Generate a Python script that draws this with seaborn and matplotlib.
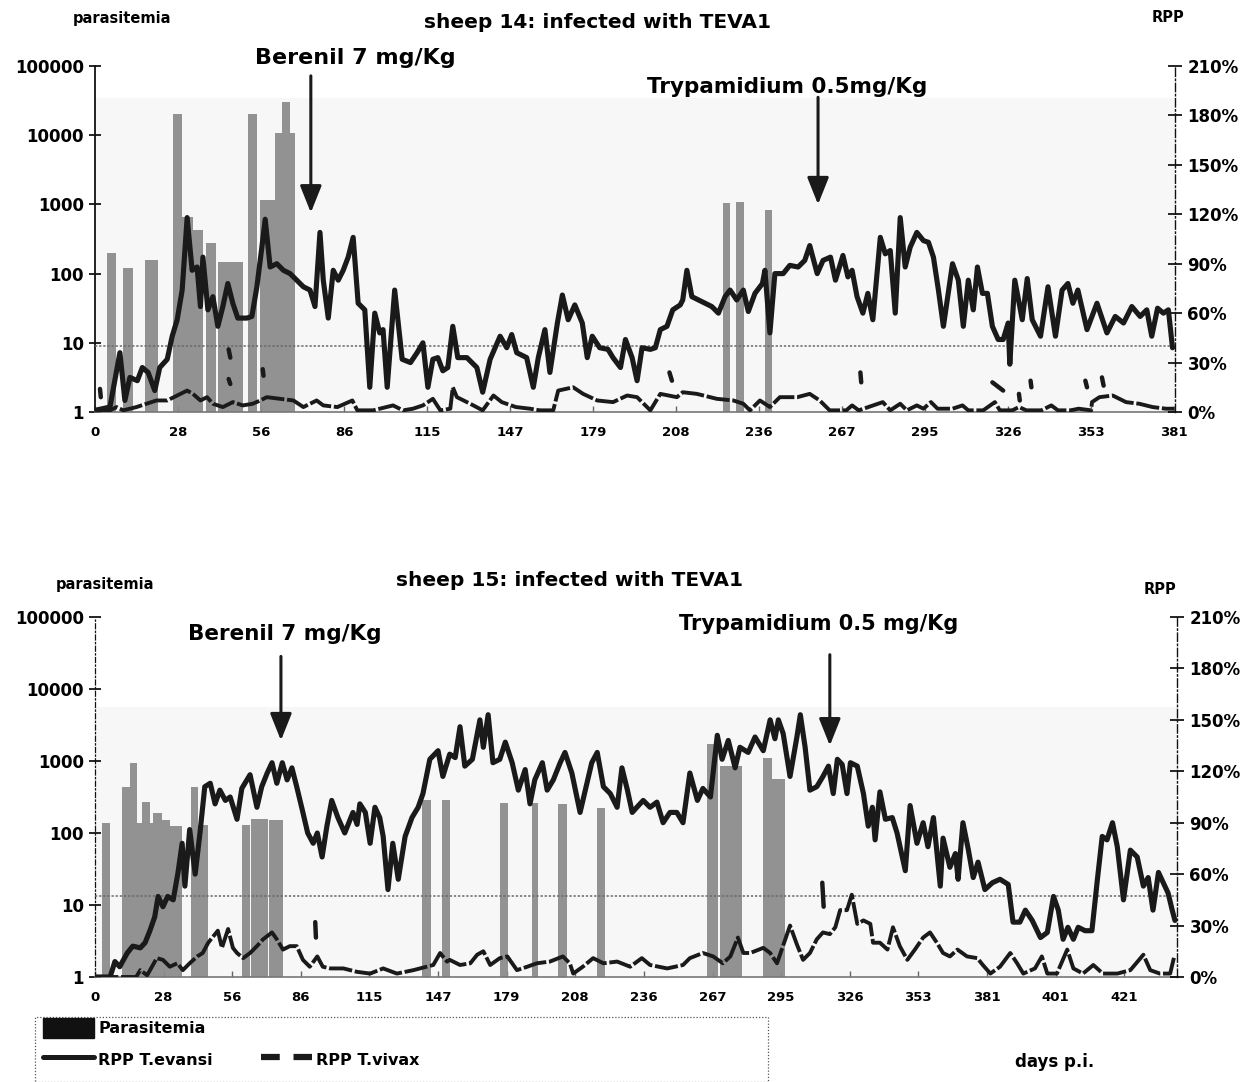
import numpy as np
import pandas as pd
import matplotlib
matplotlib.use("Agg")
import matplotlib.pyplot as plt
import seaborn as sns
from matplotlib.lines import Line2D
from matplotlib.patches import Patch, Rectangle

sns.set_theme(style="white")
plt.rcParams['font.family'] = ['DejaVu Sans']
plt.rcParams['font.weight'] = 'bold'
plt.rcParams['axes.labelweight'] = 'bold'
plt.rcParams['text.color'] = '#000000'
plt.rcParams['xtick.color'] = '#000000'
plt.rcParams['ytick.color'] = '#000000'

# ---------------- data : sheep 14 ----------------
ticks14 = ['0', '28', '56', '86', '115', '147', '179', '208', '236', '267', '295', '326', '353', '381']

evansi14_x = [0.00,0.18,0.30,0.36,0.42,0.51,0.57,0.64,0.72,0.78,
              0.87,0.93,0.99,1.05,1.11,1.17,1.23,1.27,1.30,1.36,
              1.42,1.48,1.54,1.60,1.66,1.72,1.83,1.89,1.95,2.01,
              2.05,2.11,2.19,2.27,2.35,2.43,2.51,2.59,2.65,2.71,
              2.75,2.81,2.87,2.93,2.99,3.05,3.11,3.17,3.25,3.31,
              3.37,3.43,3.47,3.52,3.61,3.70,3.80,3.88,3.95,4.01,
              4.07,4.13,4.19,4.25,4.31,4.37,4.48,4.60,4.67,4.76,
              4.88,4.96,5.02,5.08,5.20,5.28,5.34,5.42,5.48,5.57,
              5.63,5.70,5.78,5.87,5.93,5.99,6.08,6.18,6.24,6.33,
              6.39,6.47,6.53,6.59,6.69,6.75,6.81,6.89,6.96,7.05,
              7.08,7.13,7.19,7.27,7.35,7.43,7.51,7.59,7.65,7.73,
              7.81,7.87,7.95,8.04,8.07,8.13,8.19,8.29,8.37,8.47,
              8.55,8.61,8.70,8.77,8.86,8.92,9.01,9.07,9.12,9.18,
              9.25,9.31,9.37,9.46,9.52,9.58,9.64,9.70,9.76,9.82,
              9.90,9.98,10.04,10.10,10.16,10.22,10.33,10.40,10.46,10.52,
              10.58,10.63,10.69,10.75,10.81,10.88,10.94,11.00,11.02,11.08,
              11.17,11.23,11.29,11.39,11.48,11.57,11.65,11.72,11.78,11.84,
              11.95,12.07,12.19,12.29,12.39,12.49,12.59,12.67,12.73,12.80,
              12.87,12.93,12.98]
evansi14_y = [1,3,36,7,21,19,27,24,13,27,
              32,46,56,74,118,86,88,64,94,62,
              70,52,64,78,66,57,57,58,76,100,
              117,88,90,86,84,80,76,74,64,109,
              80,57,86,80,86,94,106,66,62,15,
              60,48,50,15,74,32,30,36,42,15,
              32,33,25,27,52,33,33,27,12,32,
              46,39,47,36,33,15,33,50,24,54,
              71,56,65,54,33,46,39,38,33,27,
              44,33,19,39,38,39,50,52,62,65,
              68,86,70,68,66,64,60,70,74,68,
              74,61,72,78,86,48,84,84,89,88,
              92,101,84,92,94,80,95,82,86,70,
              60,72,56,106,96,98,60,118,88,100,
              109,104,103,94,74,52,90,80,52,80,
              62,88,72,72,52,44,44,54,29,80,
              56,81,56,46,76,46,74,78,66,74,
              50,66,48,58,54,64,58,62,46,63,
              60,62,39]

vivax14_x = [0.00,0.18,0.26,0.34,0.50,0.62,0.74,0.87,0.99,1.11,
             1.18,1.27,1.35,1.42,1.54,1.66,1.78,1.90,1.99,2.07,
             2.23,2.39,2.51,2.67,2.75,2.92,3.10,3.16,3.35,3.59,
             3.71,3.83,3.95,4.07,4.16,4.28,4.31,4.36,4.52,4.67,
             4.80,4.90,5.07,5.24,5.36,5.52,5.58,5.76,5.88,6.05,
             6.24,6.41,6.53,6.69,6.81,7.01,7.08,7.25,7.49,7.69,
             7.81,7.89,8.01,8.13,8.25,8.46,8.61,8.73,8.85,9.05,
             9.12,9.20,9.49,9.58,9.70,9.78,9.90,9.98,10.07,10.15,
             10.33,10.45,10.52,10.70,10.84,10.90,11.05,11.13,11.22,11.40,
             11.52,11.60,11.75,11.85,12.00,12.01,12.10,12.26,12.42,12.58,
             12.74,12.90,13.00]
vivax14_y = [1,1,3,1,3,5,7,7,10,13,
             11,7,9,5,3,6,4,5,7,9,
             8,7,3,7,4,3,7,1,1,4,
             1,2,4,8,1,2,15,9,5,1,
             10,6,3,2,1,1,13,15,11,7,
             6,10,9,1,11,9,12,11,8,7,
             5,1,7,3,9,9,11,7,1,1,
             4,1,6,1,5,1,4,2,6,2,
             2,4,1,1,6,1,1,3,1,1,
             4,1,1,2,1,6,9,10,6,5,
             3,2,2]

# isolated dash fragments of the T. vivax curve (x, y, fragment id)
vivax14_frag_x = [0.06,0.07, 1.61,1.63, 1.61,1.63, 2.02,2.03, 6.92,6.95, 9.22,9.23,
                  10.81,10.94, 11.13,11.14, 11.27,11.28, 11.93,11.95, 12.13,12.15]
vivax14_frag_y = [14,9, 38,33, 20,17, 26,22, 24,19, 24,18,
                  18,13, 11,7, 19,15, 19,15, 21,16]
vivax14_frag_id = [0,0, 1,1, 2,2, 3,3, 4,4, 5,5, 6,6, 7,7, 8,8, 9,9, 10,10]

para14_x = [0.20,0.40,0.68,0.99,1.11,1.24,1.40,1.63,1.90,2.08,2.21,2.30,2.38,7.61,7.77,8.11]
para14_w = [0.11,0.12,0.16,0.11,0.13,0.12,0.12,0.30,0.11,0.18,0.08,0.10,0.06,0.085,0.085,0.085]
para14_v = [200,120,158,20000,660,425,277,147,20000,1150,10700,30000,10700,1050,1100,830]

# ---------------- data : sheep 15 ----------------
ticks15 = ['0', '28', '56', '86', '115', '147', '179', '208', '236', '267', '295', '326',
           '353', '381', '401', '421']

evansi15_x = [0,0.22,0.29,0.36,0.47,0.55,0.66,0.73,0.80,0.87,
              0.92,0.99,1.06,1.14,1.21,1.27,1.31,1.38,1.46,1.53,
              1.60,1.68,1.75,1.82,1.90,1.97,2.07,2.14,2.26,2.36,
              2.43,2.51,2.58,2.65,2.73,2.80,2.87,2.94,3.03,3.10,
              3.18,3.24,3.31,3.38,3.45,3.54,3.64,3.72,3.76,3.82,
              3.86,3.94,4.01,4.08,4.15,4.20,4.27,4.34,4.42,4.52,
              4.62,4.71,4.78,4.88,5.00,5.07,5.17,5.25,5.32,5.39,
              5.50,5.61,5.66,5.73,5.80,5.90,5.98,6.08,6.17,6.27,
              6.34,6.41,6.52,6.59,6.68,6.78,6.85,6.95,7.07,7.17,
              7.24,7.32,7.41,7.51,7.61,7.68,7.76,7.83,7.92,7.99,
              8.09,8.19,8.28,8.38,8.48,8.57,8.67,8.78,8.86,8.97,
              9.07,9.14,9.23,9.33,9.40,9.52,9.62,9.74,9.84,9.91,
              9.96,10.03,10.13,10.23,10.28,10.35,10.42,10.52,10.61,10.69,
              10.76,10.82,10.89,10.96,11.01,11.11,11.20,11.27,11.33,11.37,
              11.44,11.52,11.62,11.69,11.81,11.88,11.98,12.07,12.14,12.22,
              12.32,12.36,12.46,12.54,12.58,12.65,12.73,12.80,12.87,12.97,
              13.08,13.19,13.31,13.38,13.48,13.56,13.66,13.78,13.88,13.97,
              14.04,14.11,14.18,14.26,14.33,14.43,14.53,14.61,14.68,14.75,
              14.83,14.90,14.99,15.09,15.19,15.28,15.35,15.42,15.50,15.57,
              15.64,15.70,15.74]
evansi15_y = [0,0,9,6,14,18,17,20,27,35,
              47,41,47,45,61,78,53,86,60,84,
              111,113,101,109,103,105,92,110,118,99,
              111,119,125,113,125,115,122,111,96,84,
              78,84,70,88,103,93,84,92,96,89,
              101,96,78,99,93,82,51,78,57,82,
              93,99,107,127,132,117,130,128,146,123,
              127,150,134,153,125,127,137,125,109,121,
              101,115,125,109,115,125,131,119,96,113,
              125,131,111,107,99,122,109,96,100,103,
              99,102,90,96,96,90,119,103,110,105,
              141,127,138,122,134,131,140,132,150,139,
              150,142,117,140,153,134,109,111,117,123,
              107,127,124,107,125,123,107,88,99,80,
              108,92,93,84,62,100,78,90,76,93,
              53,81,64,72,57,90,74,58,67,51,
              55,57,54,32,32,39,33,23,26,47,
              39,22,29,22,29,27,27,57,82,80,
              90,76,45,74,70,53,58,39,61,55,
              49,39,33]

vivax15_x = [0,0.60,0.66,0.76,0.90,0.99,1.09,1.20,1.28,1.38,
             1.49,1.57,1.65,1.79,1.85,1.94,2.01,2.07,2.16,2.26,
             2.36,2.45,2.58,2.65,2.74,2.84,2.94,3.03,3.13,3.24,
             3.32,3.43,3.62,3.82,4.01,4.20,4.40,4.64,4.93,5.03,
             5.13,5.17,5.32,5.47,5.57,5.66,5.76,5.90,6.01,6.15,
             6.30,6.44,6.63,6.82,6.92,6.97,7.11,7.26,7.41,7.61,
             7.80,7.97,8.09,8.34,8.57,8.67,8.86,9.01,9.15,9.26,
             9.37,9.45,9.55,9.74,9.84,9.94,10.06,10.13,10.23,10.32,
             10.42,10.52,10.61,10.71,10.79,10.86,10.96,11.03,11.11,11.20,
             11.30,11.34,11.44,11.55,11.63,11.73,11.84,11.95,12.07,12.17,
             12.27,12.36,12.46,12.57,12.71,12.86,12.94,13.05,13.19,13.34,
             13.44,13.53,13.70,13.80,13.88,14.02,14.17,14.26,14.40,14.55,
             14.69,14.90,15.09,15.28,15.38,15.52,15.67,15.73]
vivax15_y = [0,0,4,1,11,10,6,8,4,8,
             12,14,20,27,17,28,17,14,11,14,
             18,22,26,22,16,18,18,10,6,12,
             6,5,5,3,2,5,2,4,7,14,
             9,10,7,8,13,15,7,11,12,4,
             6,8,9,12,8,2,6,11,8,9,
             6,11,7,5,7,11,14,12,8,12,
             23,14,14,17,14,8,22,30,19,10,
             14,22,26,25,29,39,39,48,31,33,
             31,20,20,16,29,18,10,16,23,26,
             20,14,12,16,12,11,7,2,6,14,
             8,2,5,12,2,2,16,5,2,7,
             2,2,4,13,4,2,2,12]

vivax15_frag_x = [3.21,3.22, 10.60,10.62]
vivax15_frag_y = [32,23, 55,41]
vivax15_frag_id = [0,0, 1,1]

para15_x = [0.16,0.45,0.56,0.65,0.74,0.82,0.91,1.03,1.18,1.45,1.57,2.20,2.40,2.64,
            4.83,5.12,5.96,6.41,6.81,7.38,9.00,9.27,9.80,9.96]
para15_w = [0.12,0.12,0.10,0.07,0.12,0.05,0.13,0.12,0.17,0.10,0.15,0.12,0.24,0.20,
            0.12,0.12,0.12,0.09,0.13,0.12,0.16,0.32,0.13,0.19]
para15_v = [138,440,935,138,270,138,190,150,127,437,130,130,155,150,
            287,287,260,260,250,220,1700,850,1100,560]

# ---------------- figure ----------------
W, H = 1259, 1082
fig = plt.figure(figsize=(W / 100, H / 100), dpi=100)
fig.patch.set_facecolor('white')

LINE_C = '#1a1a1a'
BAR_C = '#8a8a8a'


def panel(rect, ticks, xmax, shade_top, ev_x, ev_y, vx_x, vx_y, fx, fy, fid,
          bx, bw, bv, thresh, left_dashed):
    ax = fig.add_axes(rect)
    ax.set_facecolor('white')
    ax.set_yscale('log')
    ax.set_ylim(1, 1e5)
    ax.set_xlim(0, xmax)
    ax.axhspan(1, shade_top, color='#f7f7f7', lw=0, zorder=0)
    bv = np.asarray(bv, float)
    ax.bar(bx, bv - 1, bottom=1, width=bw, color=BAR_C, alpha=0.92, lw=0, zorder=2)
    ax.set_yticks([1, 10, 100, 1000, 10000, 100000])
    ax.set_yticklabels(['1', '10', '100', '1000', '10000', '100000'])
    ax.yaxis.set_minor_locator(matplotlib.ticker.NullLocator())
    ax.set_xticks(range(len(ticks)))
    ax.set_xticklabels(ticks)
    ax.tick_params(axis='y', which='major', direction='inout', length=8, width=1.2,
                   labelsize=12, left=True, pad=4, colors='#000')
    ax.tick_params(axis='x', direction='in', length=4, width=1, labelsize=9.5,
                   bottom=True, pad=10, colors='#666', labelcolor='#000')
    for s in ['top', 'right']:
        ax.spines[s].set_visible(False)
    ax.spines['bottom'].set_color('#777')
    ax.spines['bottom'].set_linewidth(1.2)
    ax.spines['left'].set_color('#111')
    ax.spines['left'].set_linewidth(1.3)
    if left_dashed:
        ax.spines['left'].set_linestyle((0, (4, 2, 1, 2)))
        ax.spines['left'].set_linewidth(0.9)

    ax2 = ax.twinx()
    ax2.set_ylim(0, 210)
    ax2.set_xlim(0, xmax)
    ax2.set_yticks(range(0, 211, 30))
    ax2.set_yticklabels([f'{v}%' for v in range(0, 211, 30)])
    ax2.tick_params(axis='y', direction='inout', length=10, width=1.2, labelsize=12,
                    right=True, pad=4, colors='#000')
    for s in ['top', 'left', 'bottom']:
        ax2.spines[s].set_visible(False)
    ax2.spines['right'].set_color('#111')
    ax2.spines['right'].set_linewidth(1.0)
    ax2.spines['right'].set_linestyle((0, (6, 2, 1, 2)))
    ax2.grid(False)
    ax.grid(False)

    ax2.axhline(thresh, color='#6a6a6a', lw=1.1, ls=(0, (1.5, 1.2)), zorder=3)

    sns.lineplot(x=np.asarray(vx_x), y=np.asarray(vx_y), ax=ax2, sort=False,
                 estimator=None, color=LINE_C, lw=2.8, linestyle=(0, (6, 0.7)),
                 zorder=4, legend=False)
    frag = pd.DataFrame({'x': fx, 'y': fy, 'seg': fid})
    sns.lineplot(data=frag, x='x', y='y', units='seg', estimator=None, sort=False,
                 ax=ax2, color=LINE_C, lw=3.2, zorder=4, legend=False)
    sns.lineplot(x=np.asarray(ev_x), y=np.asarray(ev_y), ax=ax2, sort=False,
                 estimator=None, color=LINE_C, lw=3.7, zorder=5, legend=False)
    ax2.set_xlabel('')
    ax2.set_ylabel('')
    ax.set_xlabel('')
    ax.set_ylabel('')
    return ax, ax2


def arrow(ax2, x, y0, y1):
    ax2.annotate('', xy=(x, y1), xytext=(x, y0), annotation_clip=False,
                 arrowprops=dict(arrowstyle='-|>,head_length=0.55,head_width=0.22',
                                 lw=2.2, color='#1a1a1a', mutation_scale=30,
                                 shrinkA=0, shrinkB=0))


# top panel
ax_a, ax_a2 = panel([95 / W, 1 - 412 / H, 1080 / W, 346 / H], ticks14, 13.01, 34600,
                    evansi14_x, evansi14_y, vivax14_x, vivax14_y,
                    vivax14_frag_x, vivax14_frag_y, vivax14_frag_id,
                    para14_x, para14_w, para14_v, 40, False)
ax_a2.text(3.13, 215, 'Berenil 7 mg/Kg', ha='center', va='center', fontsize=16,
           fontweight='bold', clip_on=False)
arrow(ax_a2, 2.60, 204, 121)
ax_a2.text(8.34, 197, 'Trypamidium 0.5mg/Kg', ha='center', va='center', fontsize=15.5,
           fontweight='bold', clip_on=False)
arrow(ax_a2, 8.71, 191, 126)

# bottom panel
ax_b, ax_b2 = panel([95 / W, 1 - 977 / H, 1082 / W, 360 / H], ticks15, 15.77, 5600,
                    evansi15_x, evansi15_y, vivax15_x, vivax15_y,
                    vivax15_frag_x, vivax15_frag_y, vivax15_frag_id,
                    para15_x, para15_w, para15_v, 47, True)
ax_b2.text(2.77, 200, 'Berenil 7 mg/Kg', ha='center', va='center', fontsize=15.5,
           fontweight='bold', clip_on=False)
arrow(ax_b2, 2.71, 187, 138)
ax_b2.text(10.55, 206, 'Trypamidium 0.5 mg/Kg', ha='center', va='center', fontsize=15,
           fontweight='bold', clip_on=False)
arrow(ax_b2, 10.71, 188, 135)

# figure texts
fig.text(122 / W, 1 - 18 / H, 'parasitemia', ha='center', va='center', fontsize=10.5,
         fontweight='bold')
fig.text(598 / W, 1 - 22 / H, 'sheep 14: infected with TEVA1', ha='center', va='center',
         fontsize=14.5, fontweight='bold')
fig.text(1168 / W, 1 - 18 / H, 'RPP', ha='center', va='center', fontsize=10.5,
         fontweight='bold')
fig.text(105 / W, 1 - 585 / H, 'parasitemia', ha='center', va='center', fontsize=10.5,
         fontweight='bold')
fig.text(570 / W, 1 - 580 / H, 'sheep 15: infected with TEVA1', ha='center', va='center',
         fontsize=14.5, fontweight='bold')
fig.text(1160 / W, 1 - 590 / H, 'RPP', ha='center', va='center', fontsize=10.5,
         fontweight='bold')
fig.text(1055 / W, 1 - 1062 / H, 'days p.i.', ha='center', va='center', fontsize=12,
         fontweight='bold')

# legend
fig.patches.append(Rectangle((35 / W, 0.0), 733 / W, 1 - 1017 / H,
                             transform=fig.transFigure, fill=False, lw=0.9,
                             ec='#555', ls=(0, (1, 1.5))))
handles = [Patch(facecolor='#111', edgecolor='#111'),
           Line2D([], [], color=LINE_C, lw=3.6),
           Line2D([], [], color='none'),
           Line2D([], [], color=LINE_C, lw=4.5, ls=(0, (3, 2.2)))]
labels = ['Parasitemia', 'RPP T.evansi', '', 'RPP T.vivax']
fig.legend(handles, labels, loc='upper left', bbox_to_anchor=(40 / W, 1 - 1015 / H),
           ncol=2, frameon=False, handlelength=3.2, handleheight=1.5,
           handletextpad=0.25, labelspacing=0.75, columnspacing=3.0, borderpad=0.2,
           borderaxespad=0, prop={'weight': 'bold', 'size': 11.5})

fig.savefig('out.png', dpi=100, facecolor='white')
